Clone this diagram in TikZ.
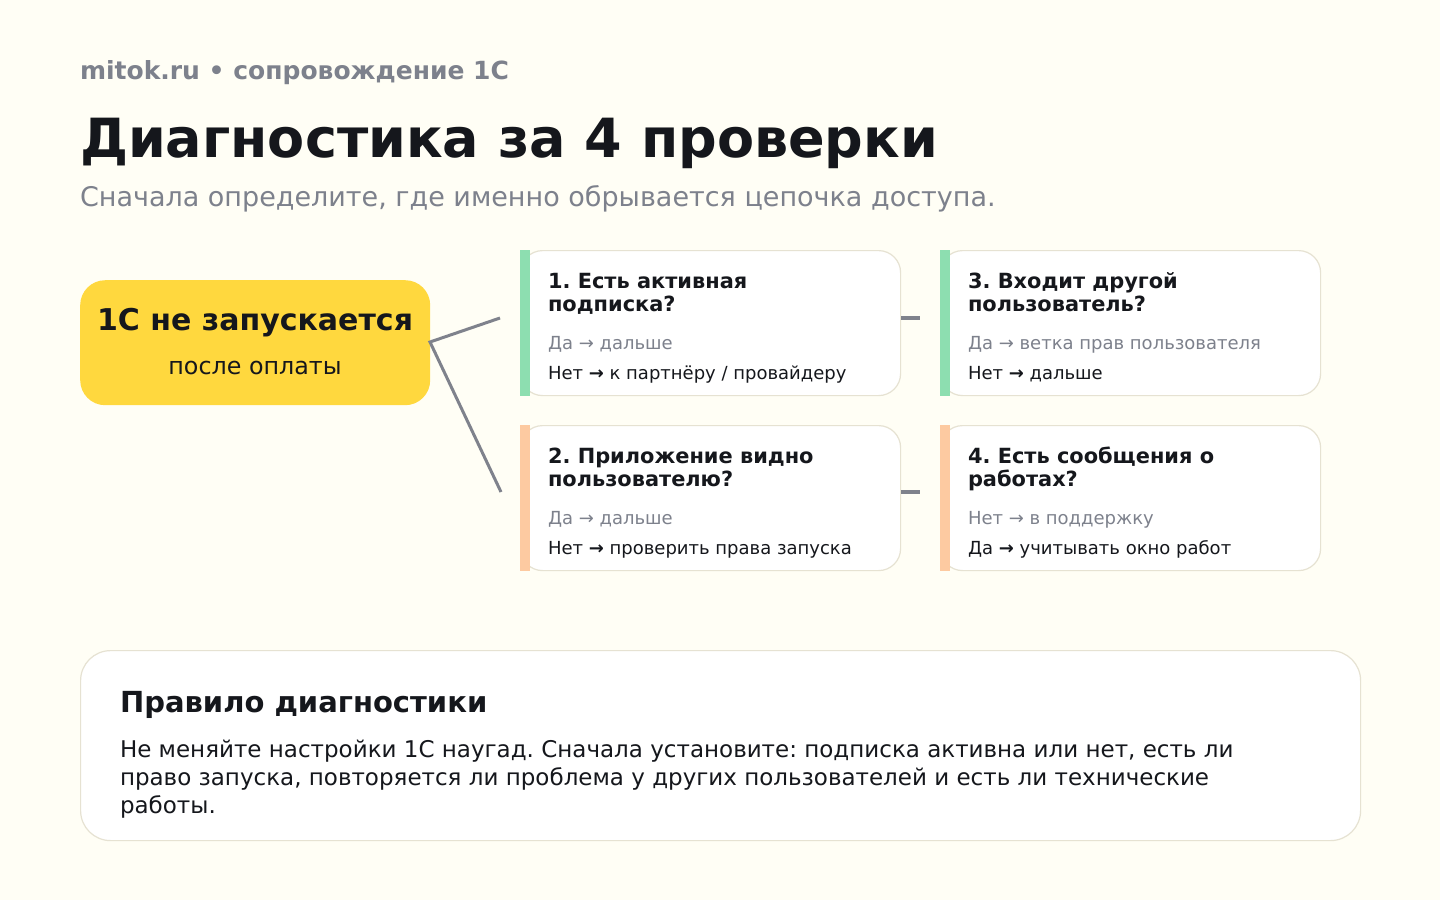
\documentclass[tikz,border=0pt]{standalone}
\usepackage{fontspec}
\setmainfont{DejaVu Sans}
\definecolor{bgc}{HTML}{FFFEF5}
\definecolor{graytxt}{HTML}{7D818C}
\definecolor{darktxt}{HTML}{15171C}
\definecolor{yelc}{HTML}{FFD83E}
\definecolor{greenc}{HTML}{8DDEB0}
\definecolor{orangec}{HTML}{FDCAA1}
\definecolor{borderc}{HTML}{E6E2D2}
\definecolor{linkc}{HTML}{7F828C}
\frenchspacing
\tikzset{
  txt/.style={anchor=base west, inner sep=0pt, outer sep=0pt},
  card/.style={draw=borderc, line width=1.2pt, fill=white, rounded corners=22pt, minimum width=380pt, minimum height=145pt, anchor=north west, inner sep=0pt},
  bar/.style={anchor=north west, minimum width=10pt, minimum height=146pt, inner sep=0pt},
  cardtitle/.style={txt, font=\bfseries\fontsize{20.9}{24}\selectfont\frenchspacing, text=darktxt, align=left},
  yesline/.style={txt, font=\fontsize{18}{21}\selectfont\frenchspacing, text=graytxt},
  noline/.style={txt, font=\fontsize{18}{21}\selectfont\frenchspacing, text=darktxt},
  ruletext/.style={txt, font=\fontsize{23}{28}\selectfont\frenchspacing, text=darktxt},
  link/.style={draw=linkc, line width=3pt},
  hlink/.style={draw=linkc, line width=4pt},
}
\begin{document}
\begin{tikzpicture}[x=1pt,y=-1pt]
\useasboundingbox (0,0) rectangle (1440,900);
\fill[bgc] (0,0) rectangle (1440,900);

\node[txt, font=\bfseries\fontsize{25}{30}\selectfont, text=graytxt] (brand) at (80,79) {mitok.ru • сопровождение 1С};
\node[txt, font=\bfseries\fontsize{54}{64}\selectfont, text=darktxt] (title) at (80,157) {Диагностика за 4 проверки};
\node[txt, font=\fontsize{27}{32}\selectfont, text=graytxt] (subtitle) at (80,206) {Сначала определите, где именно обрывается цепочка доступа.};

% main node
\node[fill=yelc, rounded corners=25pt, minimum width=350pt, minimum height=125pt, anchor=north west, inner sep=0pt] (main) at (80,280) {};
\node[anchor=base, inner sep=0pt, font=\bfseries\fontsize{30}{34}\selectfont, text=darktxt] (mainA) at (255,330) {1С не запускается};
\node[anchor=base, inner sep=0pt, font=\fontsize{23.8}{28}\selectfont, text=darktxt] (mainB) at (255,374) {после оплаты};

% cards
\node[card] (c1) at (520,250) {};
\node[card] (c3) at (940,250) {};
\node[card] (c2) at (520,425) {};
\node[card] (c4) at (940,425) {};
\node[bar, fill=greenc] (b1) at (520,250) {};
\node[bar, fill=greenc] (b3) at (940,250) {};
\node[bar, fill=orangec] (b2) at (520,425) {};
\node[bar, fill=orangec] (b4) at (940,425) {};

% connectors
\coordinate (hub) at (430,342);
\coordinate (e1) at (500,318);
\coordinate (e2) at (501,492);
\draw[link] (e1) -- (hub) -- (e2);
\coordinate (s13) at (c1.east |- 0,318);
\coordinate (t13) at (920,318);
\coordinate (s24) at (c2.east |- 0,492);
\coordinate (t24) at (920,492);
\draw[hlink] (s13) -- (t13);
\draw[hlink] (s24) -- (t24);

% card 1
\node[cardtitle] (t1a) at (548,288) {1. Есть активная};
\node[cardtitle] (t1b) at (548,311) {подписка?};
\node[yesline] (y1) at (548,349) {Да → дальше};
\node[noline] (n1) at (548,379) {Нет {\bfseries →} к партнёру / провайдеру};
% card 3
\node[cardtitle] (t3a) at (968,288) {3. Входит другой};
\node[cardtitle] (t3b) at (968,311) {пользователь?};
\node[yesline] (y3) at (968,349) {Да → ветка прав пользователя};
\node[noline] (n3) at (968,379) {Нет {\bfseries →} дальше};
% card 2
\node[cardtitle] (t2a) at (548,463) {2. Приложение видно};
\node[cardtitle] (t2b) at (548,486) {пользователю?};
\node[yesline] (y2) at (548,524) {Да → дальше};
\node[noline] (n2) at (548,554) {Нет {\bfseries →} проверить права запуска};
% card 4
\node[cardtitle] (t4a) at (968,463) {4. Есть сообщения о};
\node[cardtitle] (t4b) at (968,486) {работах?};
\node[yesline] (y4) at (968,524) {Нет → в поддержку};
\node[noline] (n4) at (968,554) {Да {\bfseries →} учитывать окно работ};

% rule box
\node[draw=borderc, line width=1.2pt, fill=white, rounded corners=30pt, minimum width=1280pt, minimum height=190pt, anchor=north west, inner sep=0pt] (rule) at (80,650) {};
\node[txt, font=\bfseries\fontsize{29}{33}\selectfont, text=darktxt] (ruleh) at (120,712) {Правило диагностики};
\node[ruletext] (r1) at (120,757) {Не меняйте настройки 1С наугад. Сначала установите: подписка активна или нет, есть ли};
\node[ruletext] (r2) at (120,785) {право запуска, повторяется ли проблема у других пользователей и есть ли технические};
\node[ruletext] (r3) at (120,813) {работы.};
\end{tikzpicture}
\end{document}
